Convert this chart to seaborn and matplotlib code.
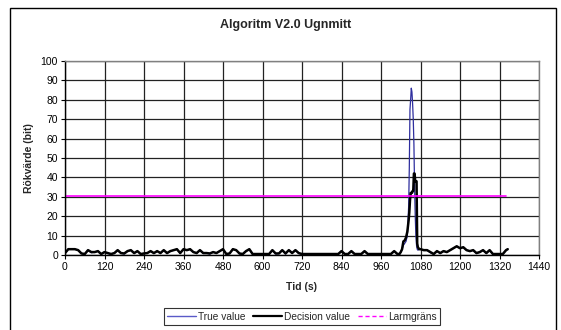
import matplotlib
matplotlib.use("Agg")
import pandas as pd
import seaborn as sns
import matplotlib.pyplot as plt
from matplotlib.lines import Line2D
from matplotlib.patches import Rectangle

# Data
tid = [
    0, 10, 20, 30, 40, 50, 60, 70, 80, 90,
    100, 110, 120, 130, 140, 150, 160, 170, 180, 190,
    200, 210, 220, 230, 240, 250, 260, 270, 280, 290,
    300, 310, 320, 330, 340, 350, 360, 370, 380, 390,
    400, 410, 420, 430, 440, 450, 460, 470, 480, 490,
    500, 510, 520, 530, 540, 550, 560, 570, 580, 590,
    600, 610, 620, 630, 640, 650, 660, 670, 680, 690,
    700, 710, 720, 730, 740, 750, 760, 770, 780, 790,
    800, 810, 820, 830, 840, 850, 860, 870, 880, 890,
    900, 910, 920, 930, 940, 950, 960, 970, 980, 990,
    1000, 1010,
    1016, 1020, 1024, 1028, 1032, 1036, 1040, 1044, 1046, 1048,
    1050, 1052, 1054, 1056, 1058, 1060, 1062, 1064, 1066, 1068,
    1070, 1072, 1076, 1080,
    1090, 1100, 1110, 1120, 1130, 1140, 1150, 1160, 1170, 1180,
    1190, 1200, 1210, 1220, 1230, 1240, 1250, 1260, 1270, 1280,
    1290, 1300, 1310, 1320, 1330, 1340, 1345,
]

decision_value = [
    1.0, 3, 3, 3, 2.5, 0.8, 0.5, 2.5, 1.5, 1.5,
    2, 0.5, 1.5, 1, 0.5, 1, 2.5, 1, 0.8, 2,
    2.5, 1, 2, 0.5, 0.8, 1, 2, 1, 2, 1,
    2.5, 1, 2, 2.5, 3, 1, 3, 2.5, 3, 1.5,
    1, 2.5, 1, 1, 0.8, 1.5, 1, 2, 3, 0.5,
    0.8, 3, 2.5, 0.8, 0.5, 2, 3, 0.5, 0.5, 0.5,
    0.5, 0.5, 0.5, 2.5, 0.8, 0.8, 2.5, 0.8, 2.5, 1,
    2.5, 1, 0.5, 0.5, 0.5, 0.5, 0.5, 0.5, 0.5, 0.5,
    0.5, 0.5, 0.5, 0.5, 2, 0.5, 0.5, 2, 0.5, 0.5,
    0.5, 2, 0.5, 0.5, 0.5, 0.5, 0.5, 0.5, 0.5, 0.5,
    2, 0.5,
    0.5, 1.5, 3, 7, 7.5, 9, 12, 18, 22, 28,
    32, 32, 32, 33, 33, 42, 42, 38, 38, 38,
    6, 4, 3, 3,
    2.5, 2.5, 1.5, 0.5, 2, 1, 2, 1.5, 2.5, 3.5,
    4.5, 3.5, 4, 2.5, 2, 2.5, 1, 1.5, 2.5, 1,
    2.5, 0.5, 0.5, 0.5, 0.5, 2.5, 3,
]

true_value = [
    1.0, 3, 3, 3, 2.5, 0.8, 0.5, 2.5, 1.2, 1.5,
    2, 0.5, 1.5, 0.8, 0.5, 1, 2.5, 1, 0.5, 2,
    2.5, 0.8, 2, 0.5, 0.8, 1, 2, 0.8, 2, 1,
    2.5, 0.8, 2, 2.5, 3, 0.8, 3, 2.5, 3, 1.5,
    1, 2.5, 0.8, 1, 0.5, 1.5, 1, 2, 3, 0.5,
    0.8, 3, 2.5, 0.5, 0.5, 2, 3, 0.5, 0.5, 0.5,
    0.5, 0.5, 0.5, 2.5, 0.5, 0.8, 2.5, 0.5, 2.5, 1,
    2.5, 0.8, 0.5, 0.5, 0.5, 0.5, 0.5, 0.5, 0.5, 0.5,
    0.5, 0.5, 0.5, 0.5, 2, 0.5, 0.5, 2, 0.5, 0.5,
    0.5, 2, 0.5, 0.5, 0.5, 0.5, 0.5, 0.5, 0.5, 0.5,
    2, 0.5,
    0.5, 1.5, 3, 5, 6, 7, 10, 25, 45, 75,
    80, 86, 84, 78, 70, 57, 35, 20, 10, 5,
    3, 2.5, 3, 3,
    2.5, 2.5, 1.2, 0.5, 2, 0.8, 2, 1.5, 2.5, 3.5,
    4.5, 3.5, 4, 2.5, 2, 2.5, 0.8, 1.5, 2.5, 0.8,
    2.5, 0.5, 0.5, 0.5, 0.5, 2.5, 3,
]

larm_tid = [0, 1340]
larmgrans = [30.5, 30.5]

df = pd.DataFrame({"tid": tid, "true": true_value, "decision": decision_value})
larm_df = pd.DataFrame({"tid": larm_tid, "larm": larmgrans})

sns.set_theme(style="white")
plt.rcParams["font.family"] = ["Liberation Sans", "DejaVu Sans"]

fig = plt.figure(figsize=(5.61, 3.30), dpi=100)
ax = fig.add_axes([65 / 561, 75 / 330, 474 / 561, 194 / 330])

sns.lineplot(data=df, x="tid", y="true", ax=ax, color="#2e2e9e", linewidth=0.9)
sns.lineplot(data=df, x="tid", y="decision", ax=ax, color="black", linewidth=1.8)
sns.lineplot(data=larm_df, x="tid", y="larm", ax=ax, color="#ff00ff", linewidth=1.2)

ax.set_xlim(0, 1440)
ax.set_ylim(0, 100)
ax.set_xticks(range(0, 1441, 120))
ax.set_yticks(range(0, 101, 10))
ax.grid(True, color="#222222", linewidth=0.9)
ax.set_axisbelow(True)
ax.tick_params(axis="both", labelsize=7.5, length=3, width=0.8,
               direction="out", bottom=True, left=True, pad=2, colors="black")
for side in ["left", "bottom"]:
    ax.spines[side].set_color("black")
    ax.spines[side].set_linewidth(1.0)
for side in ["top", "right"]:
    ax.spines[side].set_color("#808080")
    ax.spines[side].set_linewidth(1.0)

ax.set_xlabel("Tid (s)", fontsize=7.5, fontweight="bold")
ax.set_ylabel("Rökvärde (bit)", fontsize=7.5, fontweight="bold")
ax.xaxis.set_label_coords(0.5, -0.165)
ax.xaxis.label.set_va("center")
ax.yaxis.set_label_coords(-0.077, 0.5)
ax.yaxis.label.set_va("center")

fig.text(286 / 561, 1 - 25 / 330, "Algoritm V2.0 Ugnmitt", ha="center", va="center",
         fontsize=9, fontweight="bold")

handles = [
    Line2D([], [], color="#5a5ac8", linewidth=1.0),
    Line2D([], [], color="black", linewidth=1.6),
    Line2D([], [], color="#ff00ff", linewidth=1.0, linestyle=(0, (3, 2))),
]
leg = fig.legend(handles, ["True value", "Decision value", "Larmgräns"],
                 loc="center", bbox_to_anchor=(302 / 561, 1 - 316.5 / 330),
                 ncol=3, fontsize=7.3, frameon=True, fancybox=False,
                 handlelength=2.8, handletextpad=0.2, columnspacing=0.8,
                 borderpad=0.35, borderaxespad=0)
leg.get_frame().set_edgecolor("black")
leg.get_frame().set_linewidth(0.8)

fig.patches.append(Rectangle((10 / 561, -0.05), (556 - 10) / 561, 1.05 - 7.5 / 330,
                             transform=fig.transFigure, fill=False,
                             edgecolor="black", linewidth=1.0))

fig.savefig("out.png", dpi=100)
